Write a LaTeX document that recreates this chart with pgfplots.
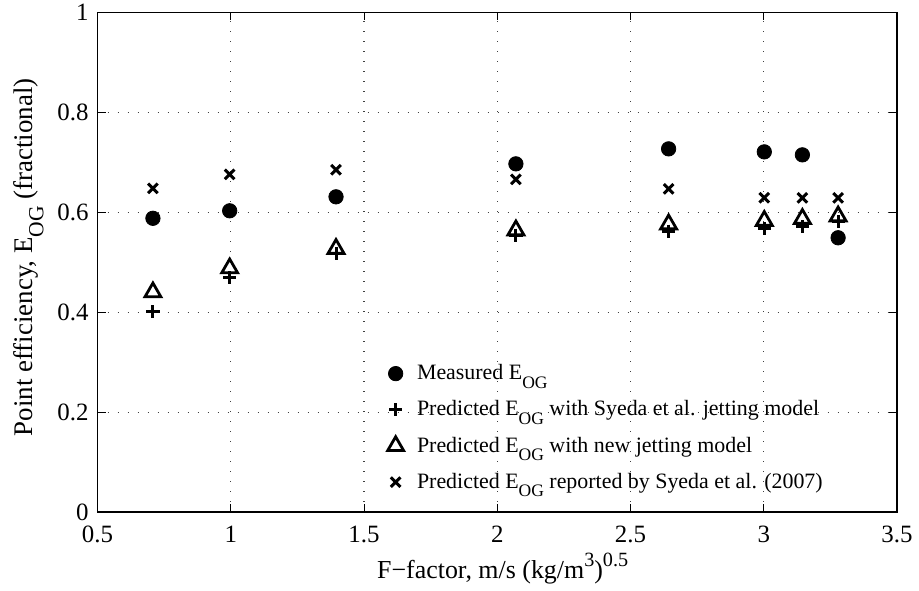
\documentclass[border=0pt]{standalone}
\usepackage{fontspec}
\setmainfont{Liberation Serif}
\usepackage{graphicx}
\usepackage{pgfplots}
\pgfplotsset{compat=1.18}

% MATLAB-style sub/superscripts
\newcommand{\sub}[1]{\raisebox{-0.85ex}{\scalebox{0.8}{#1}}}
\newcommand{\sups}[1]{\raisebox{1.05ex}{\scalebox{0.78}{#1}}}

\begin{document}
\begin{tikzpicture}
\begin{axis}[
  name=ax,
  scale only axis,
  width=399.75bp, height=249.75bp,
  xmin=0.5, xmax=3.5, ymin=0, ymax=1,
  xtick={0.5,1,1.5,2,2.5,3,3.5},
  ytick={0,0.2,0.4,0.6,0.8,1},
  xticklabels={0.5,1,1.5,2,2.5,3,3.5},
  yticklabels={0,0.2,0.4,0.6,0.8,1},
  tick align=inside,
  major tick length=4bp,
  axis line style={line width=0.9pt},
  tick style={line width=0.5pt, black},
  grid=major,
  major grid style={dash pattern=on 0.6bp off 4.4bp, line width=0.6pt, black!75},
  ticklabel style={font=\fontsize{12.5}{15}\selectfont},
  xticklabel style={yshift=-3.5bp},
  yticklabel style={xshift=-1bp},
  xlabel={F−factor, m/s (kg/m\sups{3})\sups{0.5}},
  ylabel={Point efficiency, E\sub{OG} (fractional)},
  xlabel style={font=\fontsize{13}{15}\selectfont,
    at={(axis description cs:0.341,-0.134)}, anchor=base west},
  ylabel style={font=\fontsize{13.5}{16}\selectfont,
    at={(axis description cs:-0.0807,0.138)}, anchor=base west},
  legend style={at={(0.355,0.312)}, anchor=north west, draw=none, fill=none,
    font=\fontsize{11}{13}\selectfont, row sep=5bp,
    /tikz/every odd column/.append style={column sep=4.7bp}},
  legend cell align=left,
]
% measured point efficiency
\addplot[only marks, mark=*, mark size=3.6bp, black, mark options={fill=black}] coordinates {
  (0.708,0.588) (0.996,0.603) (1.395,0.631) (2.070,0.697)
  (2.643,0.727) (3.002,0.721) (3.145,0.715) (3.279,0.549)
};
\addlegendentry{Measured E\sub{OG}}
% Syeda et al. jetting model
\addplot[only marks, mark=+, mark size=3.3bp, black, line width=1.5pt] coordinates {
  (0.708,0.401) (0.996,0.469) (1.395,0.517) (2.070,0.554)
  (2.643,0.562) (3.002,0.567) (3.145,0.571) (3.279,0.581)
};
\addlegendentry{Predicted E\sub{OG} with Syeda et al. jetting model}
% new jetting model
\addplot[only marks, mark=triangle, mark size=4.6bp, black, line width=1.4pt] coordinates {
  (0.708,0.440) (0.996,0.488) (1.395,0.527) (2.070,0.564)
  (2.643,0.576) (3.002,0.583) (3.145,0.587) (3.279,0.592)
};
\addlegendentry{Predicted E\sub{OG} with new jetting model}
% values reported by Syeda et al. (2007)
\addplot[only marks, mark=x, mark size=3.4bp, black, line width=1.5pt] coordinates {
  (0.708,0.648) (0.996,0.676) (1.395,0.685) (2.070,0.666)
  (2.643,0.647) (3.002,0.629) (3.145,0.629) (3.279,0.629)
};
\addlegendentry{Predicted E\sub{OG} reported by Syeda et al. (2007)}
\end{axis}
% page frame around the axis box
\pgfresetboundingbox
\path ([xshift=-48.75bp, yshift=-39.5bp]ax.south west)
  rectangle ([xshift=11bp, yshift=6.25bp]ax.north east);
\end{tikzpicture}
\end{document}
